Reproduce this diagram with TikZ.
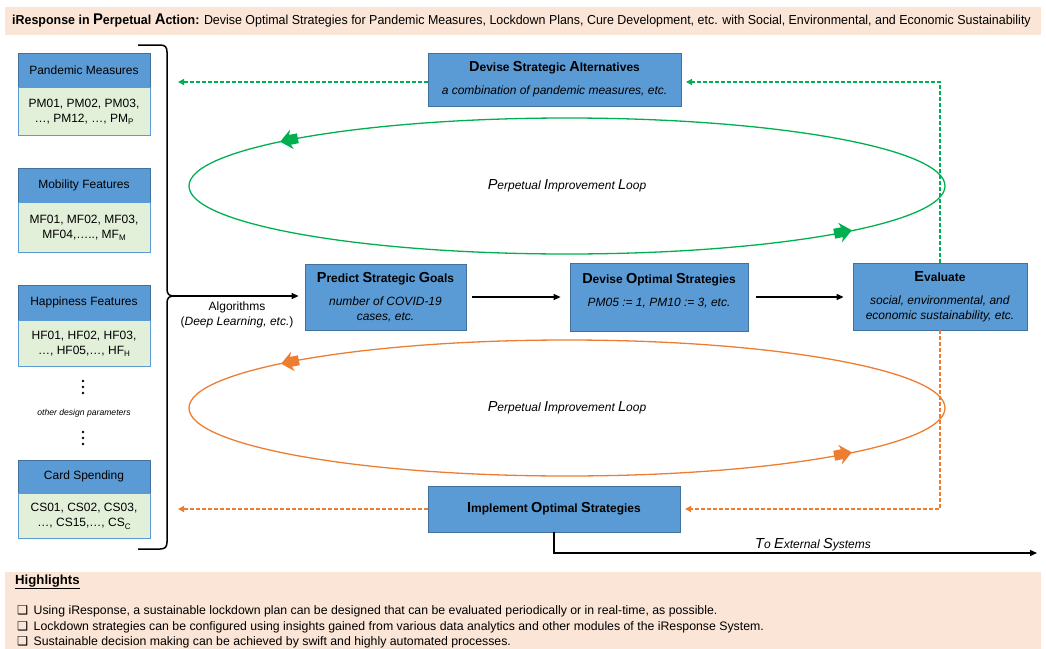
\documentclass[tikz,border=0pt]{standalone}
\usepackage{fontspec}
\setmainfont{Liberation Sans}
\newfontfamily\symfont{DejaVu Sans}
\usetikzlibrary{arrows.meta,shapes.geometric}
\definecolor{boxblue}{HTML}{5B9BD5}
\definecolor{boxedge}{HTML}{41719C}
\definecolor{lightgreen}{HTML}{E2F0D9}
\definecolor{peach}{HTML}{FBE5D6}
\definecolor{loopgreen}{HTML}{00B050}
\definecolor{looporange}{HTML}{ED7D31}
\newcommand{\Ini}[1]{{\fontsize{14.5}{15}\selectfont #1}}
\newcommand{\IniT}[1]{{\fontsize{15.5}{16}\selectfont #1}}
\newcommand{\sub}[1]{\raisebox{-2.5pt}{\fontsize{8}{8}\selectfont #1}}
\begin{document}
\begin{tikzpicture}[x=1pt,y=-1pt,
  hdr/.style={draw=boxedge, fill=boxblue, line width=0.8pt, minimum width=132pt, minimum height=34pt, inner sep=1pt, font=\fontsize{12}{14}\selectfont},
  bodybox/.style={draw=boxblue, fill=lightgreen, line width=0.8pt, minimum width=132pt, inner sep=1pt, align=center, font=\fontsize{12}{15}\selectfont, anchor=north},
  proc/.style={draw=boxedge, fill=boxblue, line width=0.8pt, align=center, inner sep=1pt, font=\fontsize{12}{15}\selectfont},
  arr/.style={line width=1.2pt, -{Triangle[length=7pt,width=6pt]}},
  gdash/.style={draw=loopgreen, line width=1.3pt, dash pattern=on 4pt off 2pt, -{Triangle[length=6pt,width=6pt]}},
  odash/.style={draw=looporange, line width=1.3pt, dash pattern=on 4pt off 2pt, -{Triangle[length=6pt,width=6pt]}},
  loopell/.style={ellipse, draw=#1, line width=1.3pt, minimum width=756pt, minimum height=136pt, inner sep=0pt, font=\itshape\fontsize{12}{14}\selectfont},
  dotc/.style={circle, fill=black, inner sep=0pt, minimum size=2.8pt},
]
\useasboundingbox (0,0) rectangle (1046,648);

% title banner
\node[fill=peach, minimum width=1036pt, minimum height=28pt, anchor=north west, inner sep=0pt] (banner) at (5,7) {};
\node[anchor=west, inner sep=0pt] (bannertext) at (12,21) {\scalebox{0.957}[1]{\fontsize{13}{15}\selectfont\textbf{iResponse in \IniT{P}erpetual \IniT{A}ction:} Devise Optimal Strategies for Pandemic Measures, Lockdown Plans, Cure Development, etc. with Social, Environmental, and Economic Sustainability}};

% highlights
\node[fill=peach, minimum width=1036pt, minimum height=80pt, anchor=north west, inner sep=0pt] (hlbox) at (5,572) {};
\node[anchor=west, inner sep=0pt] (hltitle) at (15,582) {\fontsize{13.2}{15}\selectfont\textbf{\underline{Highlights}}};
\node[anchor=west, inner sep=0pt] (hl1) at (17,611) {\fontsize{12.3}{14}\selectfont{\symfont ❑}\, Using iResponse, a sustainable lockdown plan can be designed that can be evaluated periodically or in real-time, as possible.};
\node[anchor=west, inner sep=0pt] (hl2) at (17,627) {\fontsize{12.3}{14}\selectfont{\symfont ❑}\, Lockdown strategies can be configured using insights gained from various data analytics and other modules of the iResponse System.};
\node[anchor=west, inner sep=0pt] (hl3) at (17,642) {\fontsize{12.3}{14}\selectfont{\symfont ❑}\, Sustainable decision making can be achieved by swift and highly automated processes.};

% left boxes
\node[hdr] (pmh) at (84,70) {Pandemic Measures};
\node[bodybox, minimum height=48pt] (pmb) at (pmh.south) {PM01, PM02, PM03,\\…, PM12, …, PM\sub{P}};
\node[hdr] (mfh) at (84,185) {Mobility Features};
\node[bodybox, minimum height=50pt] (mfb) at (mfh.south) {MF01, MF02, MF03,\\MF04,….., MF\sub{M}};
\node[hdr, minimum height=35pt] (hfh) at (84,302.5) {Happiness Features};
\node[bodybox, minimum height=46pt] (hfb) at (hfh.south) {HF01, HF02, HF03,\\…, HF05,…, HF\sub{H}};
\node[hdr, minimum height=33pt] (csh) at (84,476.5) {Card Spending};
\node[bodybox, minimum height=45pt] (csb) at (csh.south) {CS01, CS02, CS03,\\…, CS15,…, CS\sub{C}};

\node[dotc] (d1) at (83,381) {};
\node[dotc] (d2) at (83,387) {};
\node[dotc] (d3) at (83,393) {};
\node[font=\itshape\fontsize{8.6}{10}\selectfont] (odp) at (84,413) {other design parameters};
\node[dotc] (d4) at (83,432) {};
\node[dotc] (d5) at (83,438) {};
\node[dotc] (d6) at (83,444) {};

% brace
\coordinate (btop) at (138,45);
\coordinate (btip) at (174,296);
\coordinate (bbot) at (138,549);
\draw[line width=1.5pt] (btop) -- (160,45) .. controls (165,45) and (167,47) .. (167,52) -- (167,289)
  .. controls (167,294) and (169,296) .. (btip) .. controls (169,296) and (167,298) .. (167,303)
  -- (167,542) .. controls (167,547) and (165,549) .. (160,549) -- (bbot);

% process boxes
\node[proc, minimum width=253pt, minimum height=53pt] (dsa) at (554.5,79.5)
  {\textbf{\Ini{D}evise \Ini{S}trategic \Ini{A}lternatives}\\[8pt]\textit{a combination of pandemic measures, etc.}};
\node[proc, minimum width=161pt, minimum height=66pt] (psg) at (385.5,297)
  {\textbf{\Ini{P}redict \Ini{S}trategic \Ini{G}oals}\\[8pt]\textit{number of COVID-19}\\\textit{cases, etc.}};
\node[proc, minimum width=178pt, minimum height=68pt] (dos) at (659,297)
  {\textbf{\Ini{D}evise \Ini{O}ptimal \Ini{S}trategies}\\[8pt]\textit{PM05 := 1, PM10 := 3, etc.}\\\mbox{}};
\node[proc, minimum width=174pt, minimum height=67pt] (eval) at (940,296.5)
  {\textbf{\Ini{E}valuate}\\[8pt]\textit{social, environmental, and}\\\textit{economic sustainability, etc.}};
\node[proc, minimum width=252pt, minimum height=46pt] (impl) at (554,509)
  {\textbf{\Ini{I}mplement \Ini{O}ptimal \Ini{S}trategies}};

% loops
\node[loopell=loopgreen] (gloop) at (567,186) {\Ini{P}erpetual \Ini{I}mprovement \Ini{L}oop};
\node[loopell=looporange] (oloop) at (567,408) {\Ini{P}erpetual \Ini{I}mprovement \Ini{L}oop};
\fill[loopgreen, shift={(289,140)}, rotate=191.1] (9,0) -- (-3,10) -- (-1,5) -- (-9,5) -- (-9,-5) -- (-1,-5) -- (-3,-10) -- cycle;
\fill[loopgreen, shift={(843,232)}, rotate=11] (9,0) -- (-3,10) -- (-1,5) -- (-9,5) -- (-9,-5) -- (-1,-5) -- (-3,-10) -- cycle;
\fill[looporange, shift={(290,362)}, rotate=191.1] (9,0) -- (-3,10) -- (-1,5) -- (-9,5) -- (-9,-5) -- (-1,-5) -- (-3,-10) -- cycle;
\fill[looporange, shift={(843,454)}, rotate=11] (9,0) -- (-3,10) -- (-1,5) -- (-9,5) -- (-9,-5) -- (-1,-5) -- (-3,-10) -- cycle;

% main arrows
\draw[arr, shorten >=6pt] (btip) -- (psg.west |- btip);
\node[align=center, font=\fontsize{12}{15}\selectfont] (alg) at (237,315) {Algorithms\\(\textit{Deep Learning, etc.})};
\draw[arr, shorten <=6pt, shorten >=9pt] (psg.east) -- (dos.west);
\draw[arr, shorten <=8pt, shorten >=9pt] (dos.east) -- (eval.west |- dos.east);

% dashed feedback
\coordinate (gend) at (686,82);
\coordinate (gleft) at (178,82);
\draw[gdash] (eval.north) |- (gend);
\draw[gdash] (dsa.west |- gend) -- (gleft);
\coordinate (oend) at (685,509);
\coordinate (oleft) at (178,509);
\draw[odash] (eval.south) |- (oend);
\draw[odash] (impl.west) -- (oleft);

% external
\coordinate (ext) at (1037,553);
\draw[line width=1.2pt, -{Triangle[length=7pt,width=6pt]}] (impl.south) |- (ext);
\node[font=\itshape\fontsize{12}{14}\selectfont] (extl) at (813,545) {\Ini{T}o \Ini{E}xternal \Ini{S}ystems};
\end{tikzpicture}
\end{document}
